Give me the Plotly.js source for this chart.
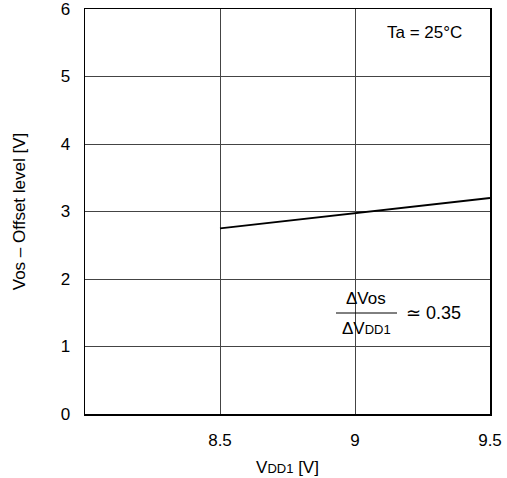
<!DOCTYPE html>
<html>
<head>
<meta charset="utf-8">
<script src="https://cdn.plot.ly/plotly-3.0.1.min.js"></script>
<style>html,body{margin:0;padding:0;background:#fff;}#chart{width:507px;height:478px;}</style>
</head>
<body>
<div id="chart"></div>
<script>
const vdd1 = [8.5, 9.0, 9.5];
const vos = [2.75, 2.975, 3.2];
const xTicks = [8.5, 9, 9.5];
const xTickText = ['8.5', '9', '9.5'];
const yTicks = [0, 1, 2, 3, 4, 5, 6];

const fam = 'Liberation Sans, Arial, sans-serif';
const font = {family: fam, size: 17, color: '#000'};

const data = [{
  x: vdd1, y: vos, type: 'scatter', mode: 'lines',
  line: {color: '#000', width: 2}, hoverinfo: 'skip'
}];

function px(x) { return (x - 85) / 405; }
function py(y) { return (414 - y) / 405; }

const layout = {
  width: 507, height: 478,
  margin: {l: 85, r: 17, t: 9, b: 64},
  paper_bgcolor: '#fff', plot_bgcolor: '#fff',
  showlegend: false,
  font: font,
  xaxis: {
    range: [8, 9.5], tickvals: xTicks, ticktext: xTickText,
    showgrid: true, gridcolor: '#444', gridwidth: 1,
    zeroline: false, showline: true, linecolor: '#000', linewidth: 1.5, mirror: true,
    ticks: '', ticklabelstandoff: 10, ticklabeloverflow: 'allow',
    tickfont: {family: fam, size: 17, color: '#000'},
    title: {text: 'V<span style="font-size:13px">DD1</span> [V]', font: {family: fam, size: 17, color: '#000'}, standoff: 12}
  },
  yaxis: {
    range: [0, 6], tickvals: yTicks,
    showgrid: true, gridcolor: '#444', gridwidth: 1,
    zeroline: false, showline: true, linecolor: '#000', linewidth: 1.5, mirror: true,
    ticks: '', ticklabelstandoff: 10, ticklabeloverflow: 'allow',
    tickfont: {family: fam, size: 17, color: '#000'},
    title: {text: 'Vos – Offset level [V]', font: {family: fam, size: 17, color: '#000'}, standoff: 30}
  },
  shapes: [{
    type: 'line', xref: 'paper', yref: 'paper',
    x0: px(336), x1: px(397), y0: py(313), y1: py(313),
    line: {color: '#000', width: 1}
  }],
  annotations: [
    {xref: 'paper', yref: 'paper', x: px(424), y: py(33), xanchor: 'center', yanchor: 'middle',
     text: 'Ta = 25°C', showarrow: false, font: {family: fam, size: 17, color: '#000'}},
    {xref: 'paper', yref: 'paper', x: px(366), y: py(298), xanchor: 'center', yanchor: 'middle',
     text: 'ΔVos', showarrow: false, font: {family: fam, size: 17, color: '#000'}},
    {xref: 'paper', yref: 'paper', x: px(366), y: py(328), xanchor: 'center', yanchor: 'middle',
     text: 'ΔV<span style="font-size:13px">DD1</span>', showarrow: false, font: {family: fam, size: 17, color: '#000'}},
    {xref: 'paper', yref: 'paper', x: px(404), y: py(313), xanchor: 'left', yanchor: 'middle',
     text: '≃ 0.35', showarrow: false, font: {family: fam, size: 18, color: '#000'}}
  ]
};

Plotly.newPlot('chart', data, layout, {staticPlot: true, displayModeBar: false});
</script>
</body>
</html>
